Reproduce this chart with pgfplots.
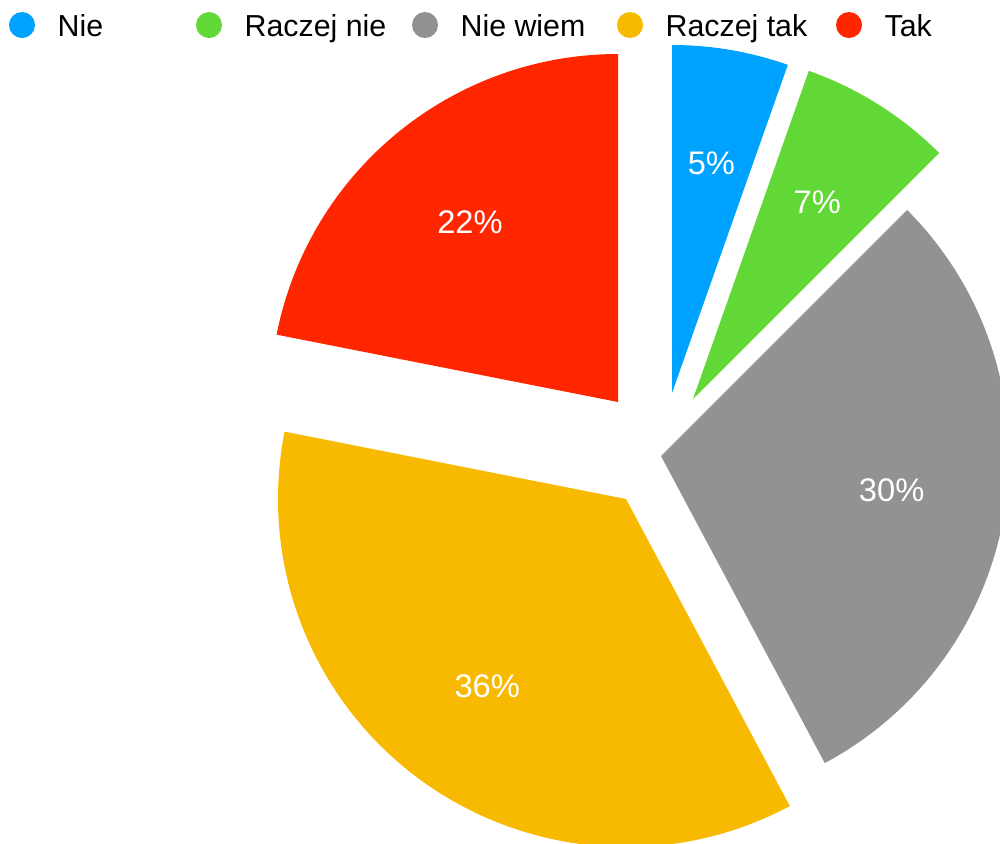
\documentclass[border=0pt]{standalone}
\usepackage{fontspec}
\setmainfont{Liberation Sans}
\usepackage{pgfplots}
\pgfplotsset{compat=1.18}
\usetikzlibrary{calc}
\definecolor{cNie}{HTML}{00A2FF}
\definecolor{cRnie}{HTML}{61D836}
\definecolor{cWiem}{HTML}{929292}
\definecolor{cRtak}{HTML}{F8BA00}
\definecolor{cTak}{HTML}{FF2600}
\newcommand{\R}{104.4pt}% pie radius (348 px at 0.3pt/px)

% colour, apex x, apex y, cumulative share before, share (in %)
\newcommand{\slice}[5]{%
  \pgfmathsetmacro\aA{90-3.6*#4}%
  \pgfmathsetmacro\aB{90-3.6*(#4+#5)}%
  \pgfmathsetmacro\aM{(\aA+\aB)/2}%
  \pgfmathtruncatemacro\pct{round(#5)}%
  \edef\tmp{%
    \noexpand\fill[#1, overlay] (axis cs:#2,#3) -- ++(\aA:\R)
      arc[start angle=\aA, end angle=\aB, radius=\R] -- cycle;
    \noexpand\node[text=white, inner sep=0pt, font=\noexpand\fontsize{9.8}{11}\noexpand\selectfont]
      at ($(axis cs:#2,#3)+(\aM:0.67*\R)$) {\pct\noexpand\%};}%
  \tmp}
\newcommand{\legitem}[3]{% colour, circle x, label
  \fill[#1] (axis cs:#2,25) circle[radius=3.9pt];
  \node[anchor=base west, inner sep=0pt] at (axis cs:#2+35,36) {#3};}

\begin{document}
\begin{tikzpicture}[font=\fontsize{9.1}{10.8}\selectfont]
\begin{axis}[
  x=0.3pt, y=0.3pt,
  xmin=0, xmax=1000, ymin=0, ymax=843,
  y dir=reverse,
  hide axis, clip=true,
]
% frame of the picture (the pie is cut at the right and bottom edges)
\path (axis cs:0,0) rectangle (axis cs:1000,843);
% shares: 5.4, 7.1, 29.7, 35.9, 21.9
\slice{cNie}{672}{393}{0}{5.4}
\slice{cRnie}{693}{399}{5.4}{7.1}
\slice{cWiem}{661}{456}{12.5}{29.7}
\slice{cRtak}{626}{499}{42.2}{35.9}
\slice{cTak}{618}{402}{78.1}{21.9}
\legitem{cNie}{22}{Nie}
\legitem{cRnie}{209}{Raczej nie}
\legitem{cWiem}{425}{Nie wiem}
\legitem{cRtak}{630}{Raczej tak}
\legitem{cTak}{849}{Tak}
\end{axis}
\end{tikzpicture}
\end{document}
